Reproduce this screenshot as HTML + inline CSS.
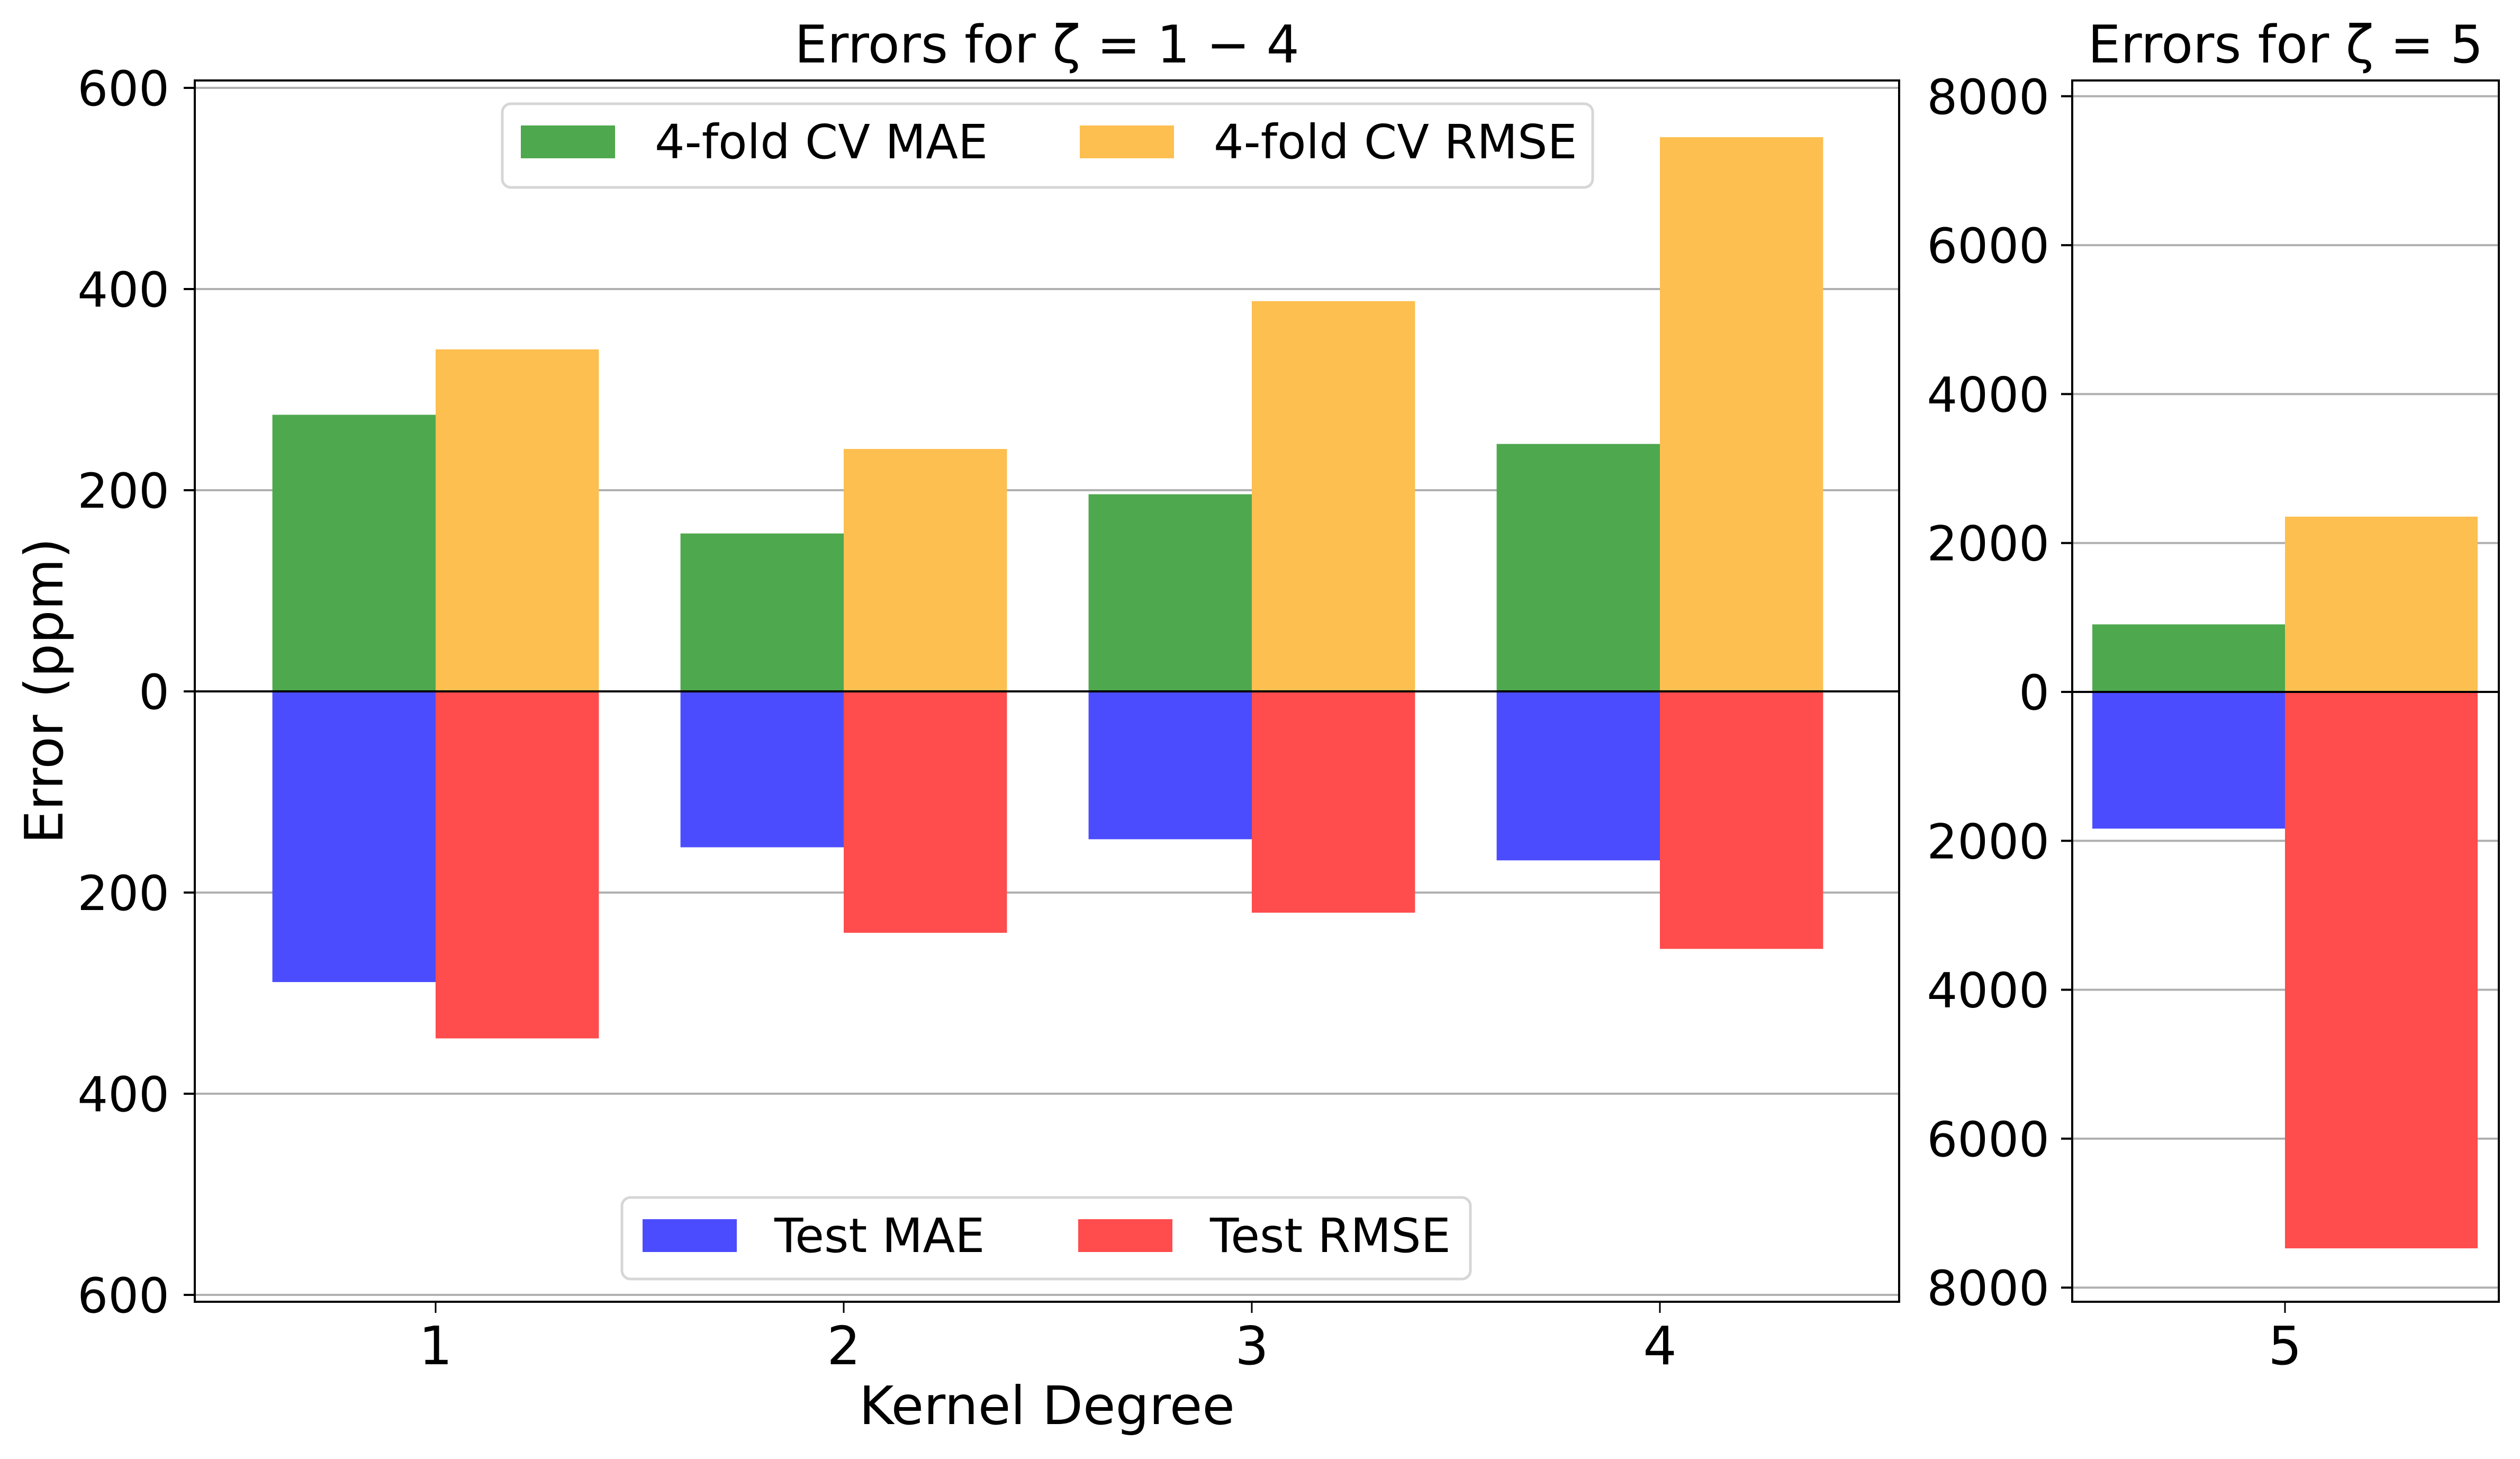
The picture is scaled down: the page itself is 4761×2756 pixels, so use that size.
<!DOCTYPE html>
<html><head><meta charset="utf-8"><style>
html,body{margin:0;padding:0;background:#fff}
svg{display:block}
text{font-family:"DejaVu Sans","Liberation Sans",sans-serif;fill:#000}
</style></head><body>
<svg id="chart" width="4761" height="2756" viewBox="0 0 4761 2756" xmlns="http://www.w3.org/2000/svg">
<g id="left"></g>
<g id="right"></g>
</svg>
<script>
const categoriesLeft = [1, 2, 3, 4];
const cvMaeLeft = [275, 157, 196, 246];
const cvRmseLeft = [340, 241, 388, 551];
const testMaeLeft = [289, 155, 147, 168];
const testRmseLeft = [345, 240, 220, 256];
const yTicksLeft = [600, 400, 200, 0, -200, -400, -600];
const categoriesRight = [5];
const cvMaeRight = [907];
const cvRmseRight = [2354];
const testMaeRight = [1836];
const testRmseRight = [7473];
const yTicksRight = [8000, 6000, 4000, 2000, 0, -2000, -4000, -6000, -8000];

const NS = "http://www.w3.org/2000/svg";
function mk(parent, tag, attrs, txt) {
  const e = document.createElementNS(NS, tag);
  for (const k in attrs) e.setAttribute(k, attrs[k]);
  if (txt !== undefined) e.textContent = txt;
  parent.appendChild(e);
  return e;
}
const C = {green:"#4ea84e", orange:"#fdbf4f", blue:"#4c4cff", red:"#ff4c4c"};

function panel(g, cfg) {
  const {x0, x1, y0, y1, xs, ys, cats, cvMae, cvRmse, tMae, tRmse, ticks, labEnd, name} = cfg;
  ticks.forEach(t => {
    const y = ys(t);
    const gl = mk(g, "line", {x1:x0, x2:x1, y1:y, y2:y, stroke:"#b0b0b0", "stroke-width":4});
    
    
    const tk = mk(g, "line", {x1:x0-21, x2:x0, y1:y, y2:y, stroke:"#000", "stroke-width":4});
    
    
    const tl = mk(g, "text", {x:labEnd, y:y+33, "text-anchor":"end", "font-size":91}, String(Math.abs(t)));
    
    
  });
  const w = 0.4;
  cats.forEach((c, i) => {
    const bars = [
      [c - w, cvMae[i], C.green, 'bar-cv-mae'],
      [c, cvRmse[i], C.orange, 'bar-cv-rmse'],
      [c - w, -tMae[i], C.blue, 'bar-test-mae'],
      [c, -tRmse[i], C.red, 'bar-test-rmse']
    ];
    bars.forEach(b => {
      const xa = xs(b[0]), xb = xs(b[0] + w);
      const ya = ys(Math.max(0, b[1])), yb = ys(Math.min(0, b[1]));
      const r = mk(g, "rect", {x:xa, y:ya, width:xb-xa, height:yb-ya, fill:b[2]});
      
      
    });
    const xt = mk(g, "line", {x1:xs(c), x2:xs(c), y1:y1, y2:y1+21, stroke:"#000", "stroke-width":3});
    
    
    const xl = mk(g, "text", {x:xs(c), y:2577, "text-anchor":"middle", "font-size":100}, String(c));
    
    
  });
  const z = mk(g, "line", {x1:x0, x2:x1, y1:ys(0), y2:ys(0), stroke:"#000", "stroke-width":4});
  
  
  const fr = mk(g, "rect", {x:x0, y:y0, width:x1-x0, height:y1-y0, fill:"none", stroke:"#000", "stroke-width":4});
  
  
}

const L = document.getElementById("left");
panel(L, {x0:368, x1:3588, y0:152, y1:2459,
  xs: v => 823 + (v - 1) * 771, ys: v => 1306 - v * 1.9,
  cats:categoriesLeft, cvMae:cvMaeLeft, cvRmse:cvRmseLeft, tMae:testMaeLeft, tRmse:testRmseLeft,
  ticks:yTicksLeft, labEnd:320, name:'left-axes'});
const R = document.getElementById("right");
panel(R, {x0:3915, x1:4721, y0:152, y1:2459,
  xs: v => 4317 + (v - 5) * 910, ys: v => 1307 - v * 0.14065,
  cats:categoriesRight, cvMae:cvMaeRight, cvRmse:cvRmseRight, tMae:testMaeRight, tRmse:testRmseRight,
  ticks:yTicksRight, labEnd:3872, name:'right-axes'});

let t;
t = mk(L, "text", {x:1978, y:118, "text-anchor":"middle", "font-size":98}, "Errors for ζ = 1 − 4");


t = mk(R, "text", {x:4318, y:118, "text-anchor":"middle", "font-size":98}, "Errors for ζ = 5");


t = mk(L, "text", {x:1978, y:2690, "text-anchor":"middle", "font-size":100}, "Kernel Degree");


t = mk(L, "text", {x:0, y:0, "text-anchor":"middle", "font-size":100, transform:"translate(118,1305) rotate(-90)"}, "Error (ppm)");



function legend(x, y, w, h, items, name) {
  const lg = mk(L, "g", {});
  
  
  mk(lg, "rect", {x:x, y:y, width:w, height:h, rx:16, fill:"#fff", "fill-opacity":0.8, stroke:"#d6d6d6", "stroke-width":5});
  items.forEach(it => {
    const p = mk(lg, "rect", {x:it[0], y:y+41, width:178, height:62, fill:it[2]});
    
    
    const tx = mk(lg, "text", {x:it[1], y:y+103, "font-size":89}, it[3]);
    
    
  });
}
legend(949, 196, 2060, 158, [[984, 1237, C.green, "4-fold CV MAE"], [2040, 2293, C.orange, "4-fold CV RMSE"]], 'legend-cv');
legend(1175, 2262, 1603, 154, [[1214, 1463, C.blue, "Test MAE"], [2037, 2286, C.red, "Test RMSE"]], 'legend-test');
</script>
</body></html>
